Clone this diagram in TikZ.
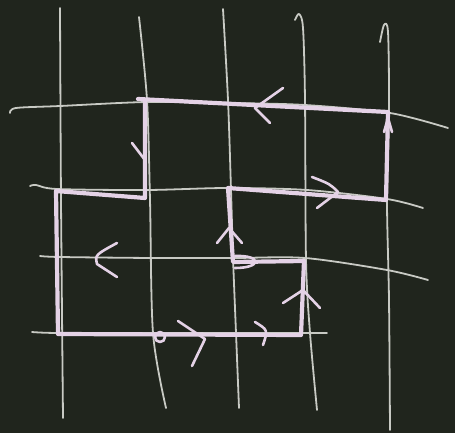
\documentclass[tikz,border=0pt]{standalone}
\usetikzlibrary{calc}
\definecolor{board}{RGB}{32,37,29}
\definecolor{chalk}{RGB}{200,202,196}
\definecolor{pinkchalk}{RGB}{228,210,230}
\tikzset{
  gridline/.style={chalk,line width=1.8pt,line cap=round,line join=round},
  loopline/.style={pinkchalk,line width=4.2pt,line cap=round,line join=round},
  chalkhead/.style={pinkchalk,line width=2.6pt,line cap=round,line join=round},
}

\begin{document}
\begin{tikzpicture}[x=1pt,y=-1pt]
  \fill[board] (0,0) rectangle (455,433);
  \useasboundingbox (0,0) rectangle (455,433);
  % vertical lines
  \draw[gridline] plot[smooth] coordinates {(60,8) (61,200) (63,418)};
  \draw[gridline] plot[smooth] coordinates {(139,17) (147,100) (150,200) (153,333) (166,408)};
  \draw[gridline] plot[smooth] coordinates {(223,9) (228,100) (231,190) (233,257) (236,333) (239,408)};
  \draw[gridline] plot[smooth] coordinates {(295,20) (299,14) (303,28) (305,100) (306,260) (310,333) (317,410)};
  \draw[gridline] plot[smooth] coordinates {(380,42) (384,25) (388,32) (389,107) (387,200) (389,300) (390,430)};
  % horizontal lines
  \draw[gridline] plot[smooth] coordinates {(10,113) (16,108) (60,106) (147,102) (230,103) (305,105) (390,113) (448,128)};
  \draw[gridline] plot[smooth] coordinates {(30,186) (36,185) (57,189) (147,190) (227,188) (307,190) (387,199) (423,208)};
  \draw[gridline] plot[smooth] coordinates {(40,256) (60,257) (153,258) (233,258) (305,258) (387,270) (428,280)};
  \draw[gridline] plot[smooth] coordinates {(32,332) (58,333) (160,333) (233,333) (300,333) (327,333)};

  % corners of the loop
  \coordinate (a) at (138,99);
  \coordinate (b) at (388,112);
  \coordinate (c) at (386,200);
  \coordinate (d) at (228,188);
  \coordinate (e) at (233,262);
  \coordinate (f) at (304,261);
  \coordinate (g) at (301,335);
  \coordinate (h) at (58,334);
  \coordinate (i) at (56,191);
  \coordinate (j) at (145,198);
  \coordinate (k) at (145,100);
  \draw[loopline] (a) -- (b) -- (c) -- (d) -- (e) -- (f) -- (g) -- (h) -- (i) -- (j) -- (k);

  % arrow marks
  \draw[chalkhead] (283,88) -- (255,108) -- (270,123);
  \draw[chalkhead] (132,143) -- (145,160);
  \draw[chalkhead] (312,177) .. controls (330,184) .. (338,192) -- (317,208);
  \draw[chalkhead] (217,243) -- (229,228) -- (242,243);
  \draw[chalkhead] (117,243) .. controls (95,255) .. (97,264) -- (117,277);
  \draw[chalkhead] (235,256) .. controls (262,255) and (262,268) .. (235,268);
  \draw[chalkhead] (283,303) -- (303,290) -- (320,308);
  \draw[chalkhead] (178,321) -- (205,339) -- (192,366);
  \draw[chalkhead] (255,322) .. controls (268,330) .. (263,345);
  \draw[chalkhead] (384,132) -- (388,118) -- (392,132);
  \draw[chalkhead] (160,337) circle[radius=5];
\end{tikzpicture}
\end{document}
